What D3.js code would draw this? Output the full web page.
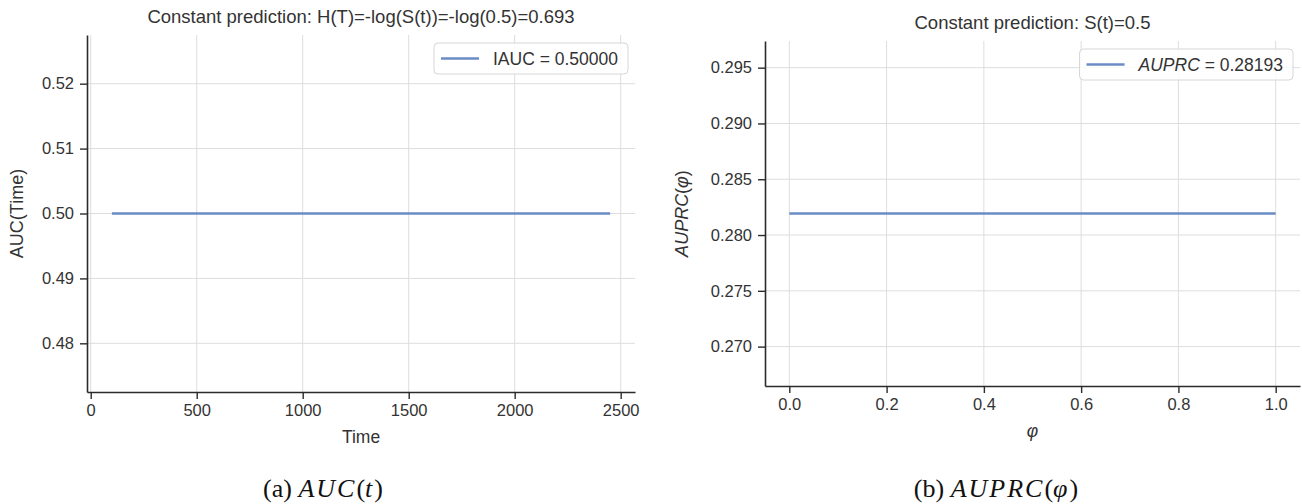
<!DOCTYPE html>
<html>
<head>
<meta charset="utf-8">
<script src="https://cdn.jsdelivr.net/npm/d3@7"></script>
<style>
  body { margin: 0; background: #fff; }
  svg text { font-family: "Liberation Sans", Arial, sans-serif; fill: #333; }
  .caption text { font-family: "Liberation Serif", "DejaVu Serif", serif; fill: #111; }
</style>
</head>
<body>
<svg id="chart" width="1302" height="504"></svg>
<script>
// ---------------Data---------------
const aucTimes = [100, 2450]
const aucValues = [0.5, 0.5]
const aucTicksX = [0, 500, 1000, 1500, 2000, 2500]
const aucTicksY = [0.48, 0.49, 0.50, 0.51, 0.52]
const iauc = 0.5

const phiValues = [0, 1]
const auprcValues = [0.28193, 0.28193]
const phiTicks = [0, 0.2, 0.4, 0.6, 0.8, 1.0]
const auprcTicks = [0.270, 0.275, 0.280, 0.285, 0.290, 0.295]
const auprc = 0.28193

const lineColor = '#6a8cc6'
const gridColor = '#dddddd'
const spineColor = '#2b2b2b'

const svg = d3.select('#chart')

function drawPanel(p) {
  const g = svg.append('g')
  const ext = d3.extent(p.xs)
  const pad = (ext[1] - ext[0]) * 0.05
  const x = d3.scaleLinear().domain([ext[0] - pad, ext[1] + pad]).range([p.left, p.right])
  const y = d3.scaleLinear().domain(p.yDomain).range([p.bottom, p.top])

  // grid
  g.append('g').selectAll('line').data(p.xTicks).join('line')
    .attr('x1', d => x(d)).attr('x2', d => x(d))
    .attr('y1', p.top).attr('y2', p.bottom)
    .attr('stroke', gridColor).attr('stroke-width', 1)
  g.append('g').selectAll('line').data(p.yTicks).join('line')
    .attr('y1', d => y(d)).attr('y2', d => y(d))
    .attr('x1', p.left).attr('x2', p.right)
    .attr('stroke', gridColor).attr('stroke-width', 1)

  // data line
  g.append('path')
    .datum(d3.zip(p.xs, p.ys))
    .attr('fill', 'none')
    .attr('stroke', lineColor)
    .attr('stroke-width', 2.6)
    .attr('d', d3.line().x(d => x(d[0])).y(d => y(d[1])))

  // axes
  const xAxis = d3.axisBottom(x).tickValues(p.xTicks).tickFormat(p.xFormat)
    .tickSize(7).tickSizeOuter(0).tickPadding(5)
  const yAxis = d3.axisLeft(y).tickValues(p.yTicks).tickFormat(p.yFormat)
    .tickSize(7).tickSizeOuter(0).tickPadding(6)

  const gx = g.append('g').attr('transform', `translate(0,${p.bottom})`).call(xAxis)
  const gy = g.append('g').attr('transform', `translate(${p.left},0)`).call(yAxis)
  ;[gx, gy].forEach(a => {
    a.select('.domain').attr('stroke', spineColor).attr('stroke-width', 1.6)
    a.selectAll('.tick line').attr('stroke', spineColor).attr('stroke-width', 1.4)
    a.selectAll('.tick text').attr('font-size', 16.5).attr('fill', '#3a3a3a')
      .attr('font-family', '"Liberation Sans", Arial, sans-serif')
  })

  const cx = (p.left + p.right) / 2

  // title
  g.append('text')
    .attr('x', cx).attr('y', p.top - 12)
    .attr('text-anchor', 'middle').attr('font-size', 18.5)
    .text(p.title)

  // x label
  const xl = g.append('text')
    .attr('x', cx).attr('y', p.bottom + 51)
    .attr('text-anchor', 'middle').attr('font-size', 17.5)
  p.xLabel.forEach(s => xl.append('tspan').attr('font-style', s[1] ? 'italic' : null).text(s[0]))

  // y label
  const yl = g.append('text')
    .attr('transform', `translate(${p.left - p.yLabelOffset},${(p.top + p.bottom) / 2}) rotate(-90)`)
    .attr('text-anchor', 'middle').attr('font-size', 18)
  p.yLabel.forEach(s => yl.append('tspan').attr('font-style', s[1] ? 'italic' : null).text(s[0]))

  // legend
  const lg = g.append('g')
  const box = lg.append('rect')
  const lt = lg.append('text').attr('font-size', 17.5)
  p.legend.forEach(s => lt.append('tspan').attr('font-style', s[1] ? 'italic' : null).text(s[0]))
  const tw = lt.node().getComputedTextLength()
  const bw = 59 + tw + 10
  const bh = 31
  const bx = p.right - 7 - bw
  const by = p.top + 8
  box.attr('x', bx).attr('y', by).attr('width', bw).attr('height', bh)
    .attr('rx', 4).attr('fill', '#fff').attr('fill-opacity', 0.85)
    .attr('stroke', '#d6d6d6').attr('stroke-width', 1)
  lg.append('line')
    .attr('x1', bx + 7).attr('x2', bx + 45)
    .attr('y1', by + bh / 2).attr('y2', by + bh / 2)
    .attr('stroke', lineColor).attr('stroke-width', 2.6)
  lt.attr('x', bx + 59).attr('y', by + bh / 2 + 6)

  // caption (math parts a little spaced out, like LaTeX math italic)
  const cap = svg.append('g').attr('class', 'caption').append('text')
    .attr('x', p.captionX).attr('y', 497)
    .attr('text-anchor', 'middle').attr('font-size', 26)
  p.caption.forEach(s => cap.append('tspan')
    .attr('font-style', s[1] ? 'italic' : null)
    .attr('letter-spacing', s[1] ? 2 : null)
    .text(s[0]))
}

drawPanel({
  xs: aucTimes, ys: aucValues,
  xTicks: aucTicksX, yTicks: aucTicksY,
  xFormat: d3.format('d'), yFormat: d3.format('.2f'),
  yDomain: [0.4725, 0.5275],
  left: 87, right: 635, top: 35, bottom: 392,
  title: 'Constant prediction: H(T)=-log(S(t))=-log(0.5)=0.693',
  xLabel: [['Time', false]],
  yLabel: [['AUC(Time)', false]],
  yLabelOffset: 64,
  legend: [['IAUC = ' + d3.format('.5f')(iauc), false]],
  caption: [['(a) ', false], ['AUC', true], ['(', false], ['t', true], [')', false]],
  captionX: 323
})

drawPanel({
  xs: phiValues, ys: auprcValues,
  xTicks: phiTicks, yTicks: auprcTicks,
  xFormat: d3.format('.1f'), yFormat: d3.format('.3f'),
  yDomain: [0.26647, 0.29739],
  left: 765, right: 1300, top: 41, bottom: 386,
  title: 'Constant prediction: S(t)=0.5',
  xLabel: [['φ', true]],
  yLabel: [['AUPRC', true], ['(', false], ['φ', true], [')', false]],
  yLabelOffset: 77,
  legend: [['AUPRC', true], [' = ' + d3.format('.5f')(auprc), false]],
  caption: [['(b) ', false], ['AUPRC', true], ['(', false], ['φ', true], [')', false]],
  captionX: 996
})
</script>
</body>
</html>
